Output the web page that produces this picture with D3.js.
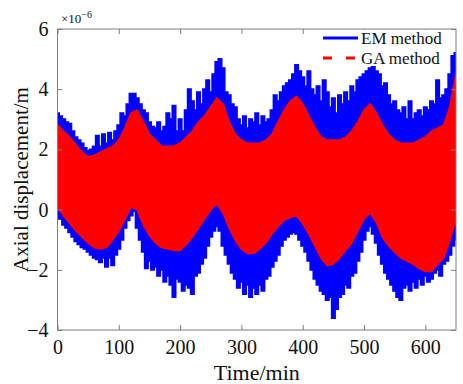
<!DOCTYPE html>
<html>
<head>
<meta charset="utf-8">
<script src="https://cdn.jsdelivr.net/npm/d3@7/dist/d3.min.js"></script>
<style>
  body { margin: 0; background: #fff; }
  svg { display: block; font-family: "Liberation Serif", "Times New Roman", serif; }
</style>
</head>
<body>
<div id="chart"></div>
<script>
// envelope readings (x1e-6 m), EM every 5 min, GA every 10 min
const emStep = 5;
const emUpper = [3.2, 3.1, 3.0, 2.9, 2.85, 2.6, 2.4, 2.3, 2.2, 2.05, 1.95, 2.0, 2.1, 2.45, 2.1, 2.5, 2.2, 2.55, 2.3, 2.6,
  2.8, 3.2, 3.1, 3.5, 3.85, 3.85, 3.7, 3.5, 3.3, 3.2, 2.9, 2.75, 2.7, 2.9, 2.6, 2.75, 3.2, 3.0, 3.45, 2.6,
  3.0, 2.6, 3.3, 4.0, 3.6, 3.3, 3.9, 3.5, 4.0, 4.3, 3.9, 4.5, 4.9, 5.0, 4.7, 3.9, 3.8, 3.5, 3.4, 3.0,
  2.8, 3.1, 2.7, 3.0, 2.9, 3.2, 2.8, 3.1, 2.9, 3.0, 3.3, 3.8, 3.6, 3.9, 4.1, 4.2, 4.3, 4.5, 4.8, 4.6,
  4.4, 4.1, 4.6, 4.0, 3.8, 4.1, 3.6, 4.3, 3.9, 3.4, 3.7, 3.2, 3.8, 3.5, 3.9, 3.6, 4.1, 3.9, 4.3, 4.4,
  4.5, 4.6, 4.7, 4.8, 4.6, 4.5, 4.1, 4.2, 3.8, 3.5, 3.6, 3.3, 3.2, 3.4, 3.0, 3.6, 3.0, 3.2, 3.3, 3.1,
  3.4, 3.3, 3.6, 3.5, 4.3, 3.7, 3.8, 4.0, 4.5, 5.1, 5.2];
const emLower = [0.0, -0.3, -0.5, -0.6, -0.75, -0.9, -1.05, -1.15, -1.25, -1.3, -1.4, -1.5, -1.6, -1.65, -1.75, -1.6, -1.9, -1.6, -1.85, -1.5,
  -1.3, -1.0, -0.6, -0.35, -0.2, -0.05, -0.6, -1.0, -1.4, -1.95, -1.7, -2.0, -1.9, -2.2, -2.0, -2.4, -2.2, -2.5, -2.9, -2.3,
  -2.4, -2.7, -2.5, -2.6, -2.8, -2.2, -2.1, -1.8, -1.6, -1.2, -0.9, -0.7, -0.55, -0.7, -1.2, -1.5, -1.8, -2.1, -2.3, -2.6,
  -2.4, -2.8, -2.5, -2.9, -2.6, -2.8, -2.5, -2.7, -2.3, -2.2, -1.9, -1.7, -1.5, -1.2, -1.0, -0.9, -0.8, -0.75, -0.8, -1.0,
  -1.2, -1.4, -1.7, -2.0, -2.3, -2.5, -2.7, -2.8, -3.0, -2.9, -3.6, -3.3, -2.9, -2.8, -2.5, -2.6, -2.2, -2.1, -1.7, -1.4,
  -1.0, -0.7, -0.55, -0.8, -1.1, -1.5, -1.8, -2.1, -2.3, -2.5, -2.7, -2.9, -3.0, -2.6, -2.5, -2.7, -2.4, -2.6, -2.3, -2.5,
  -2.2, -2.4, -2.3, -2.1, -2.0, -2.2, -1.8, -1.7, -1.5, -1.2, -1.0];

const gaStep = 10;
const gaUpper = [2.8, 2.6, 2.4, 2.15, 1.9, 1.75, 1.8, 1.9, 2.0, 2.1, 2.3, 2.7, 3.2, 3.3, 2.9, 2.5, 2.3, 2.1, 2.1, 2.1,
  2.2, 2.4, 2.6, 2.9, 3.1, 3.4, 3.7, 3.5, 2.9, 2.5, 2.3, 2.2, 2.2, 2.2, 2.3, 2.5, 2.9, 3.3, 3.6, 3.75,
  3.5, 3.1, 2.7, 2.4, 2.3, 2.3, 2.3, 2.4, 2.6, 2.9, 3.3, 3.5, 3.2, 2.8, 2.5, 2.3, 2.2, 2.2, 2.2, 2.3,
  2.4, 2.6, 2.7, 2.8, 3.4, 4.5];
const gaLower = [0.1, -0.2, -0.45, -0.7, -0.9, -1.1, -1.25, -1.3, -1.25, -1.0, -0.7, -0.3, 0.1, 0.0, -0.5, -0.85, -1.1, -1.25, -1.3, -1.35,
  -1.35, -1.15, -0.9, -0.6, -0.3, 0.0, 0.2, -0.1, -0.6, -1.0, -1.3, -1.45, -1.45, -1.3, -1.1, -0.8, -0.55, -0.35, -0.25, -0.2,
  -0.45, -0.8, -1.2, -1.6, -1.85, -1.8, -1.6, -1.35, -1.1, -0.7, -0.3, -0.1, -0.4, -0.9, -1.2, -1.4, -1.6, -1.7, -1.8, -1.95,
  -2.05, -2.05, -1.8, -1.6, -1.0, -0.3];

const xTicks = [0, 100, 200, 300, 400, 500, 600];
const yTicks = [-4, -2, 0, 2, 4, 6];
const seriesNames = ["EM method", "GA method"];

const W = 463, H = 384;
const margin = {left: 57.5, right: 456, top: 29, bottom: 330};
const axisColor = "#7f7f7f";

const svg = d3.select("#chart").append("svg")
  .attr("width", W)
  .attr("height", H);

const x = d3.scaleLinear().domain([0, 650]).range([margin.left, margin.right]);
const y = d3.scaleLinear().domain([-4, 6]).range([margin.bottom, margin.top]);

svg.append("clipPath").attr("id", "plot-clip")
  .append("rect")
  .attr("x", margin.left).attr("y", margin.top)
  .attr("width", margin.right - margin.left).attr("height", margin.bottom - margin.top);

const em = emUpper.map((u, i) => ({t: i * emStep, hi: u, lo: emLower[i]}));
const ga = gaUpper.map((u, i) => ({t: i * gaStep, hi: u, lo: gaLower[i]}));

const band = d3.area()
  .x(d => x(d.t))
  .y0(d => y(d.lo))
  .y1(d => y(d.hi));

const plot = svg.append("g").attr("clip-path", "url(#plot-clip)");

plot.append("path")
  .datum(em)
  .attr("d", band.curve(d3.curveStep))
  .style("fill", "#0000ff")
  .style("stroke", "#0000ff")
  .style("stroke-width", 2)
  .style("stroke-linejoin", "miter");

plot.append("path")
  .datum(ga)
  .attr("d", band.curve(d3.curveLinear))
  .style("fill", "#ff0000")
  .style("stroke", "#ff0000")
  .style("stroke-width", 2);

// box + ticks on all four sides
svg.append("rect")
  .attr("x", margin.left).attr("y", margin.top)
  .attr("width", margin.right - margin.left).attr("height", margin.bottom - margin.top)
  .style("fill", "none")
  .style("stroke", axisColor)
  .style("stroke-width", 1);

const xAxis = svg.append("g").attr("transform", "translate(0," + margin.bottom + ")")
  .call(d3.axisBottom(x).tickValues(xTicks).tickSize(-5).tickPadding(10));
const xAxisTop = svg.append("g").attr("transform", "translate(0," + margin.top + ")")
  .call(d3.axisTop(x).tickValues(xTicks).tickSize(-5).tickFormat(""));
const yAxis = svg.append("g").attr("transform", "translate(" + margin.left + ",0)")
  .call(d3.axisLeft(y).tickValues(yTicks).tickSize(-5).tickPadding(9)
    .tickFormat(d => d < 0 ? "\u2212" + Math.abs(d) : d));
const yAxisRight = svg.append("g").attr("transform", "translate(" + margin.right + ",0)")
  .call(d3.axisRight(y).tickValues(yTicks).tickSize(-5).tickFormat(""));

[xAxis, xAxisTop, yAxis, yAxisRight].forEach(g => {
  g.select(".domain").remove();
  g.selectAll(".tick line").style("stroke", axisColor);
  g.selectAll("text")
    .style("font-family", "'Liberation Serif', serif")
    .style("font-size", "20px")
    .style("fill", "#111");
});

// exponent label
const expo = svg.append("text")
  .attr("x", 61).attr("y", 23)
  .style("font-size", "13px")
  .style("fill", "#111");
expo.append("tspan").text("\u00d710");
expo.append("tspan").attr("dy", -5).style("font-size", "10px").text("\u22126");

svg.append("text")
  .attr("x", (margin.left + margin.right) / 2)
  .attr("y", 380)
  .attr("text-anchor", "middle")
  .style("font-size", "22px")
  .style("fill", "#111")
  .text("Time/min");

svg.append("text")
  .attr("transform", "translate(28," + ((margin.top + margin.bottom) / 2) + ") rotate(-90)")
  .attr("text-anchor", "middle")
  .style("font-size", "21px")
  .style("fill", "#111")
  .text("Axial displacement/m");

// legend
const legend = svg.append("g");
legend.append("rect")
  .attr("x", 318).attr("y", margin.top + 1)
  .attr("width", 126).attr("height", 36)
  .style("fill", "#fff");

const legendRows = [
  {name: seriesNames[0], color: "#0000ff", dash: null, y: 38},
  {name: seriesNames[1], color: "#ff0000", dash: "9,14", y: 58}
];
legendRows.forEach(r => {
  legend.append("line")
    .attr("x1", 323).attr("x2", 358)
    .attr("y1", r.y).attr("y2", r.y)
    .style("stroke", r.color)
    .style("stroke-width", 3)
    .style("stroke-dasharray", r.dash);
  legend.append("text")
    .attr("x", 361).attr("y", r.y + 5.5)
    .style("font-size", "17px")
    .style("fill", "#111")
    .text(r.name);
});
</script>
</body>
</html>
